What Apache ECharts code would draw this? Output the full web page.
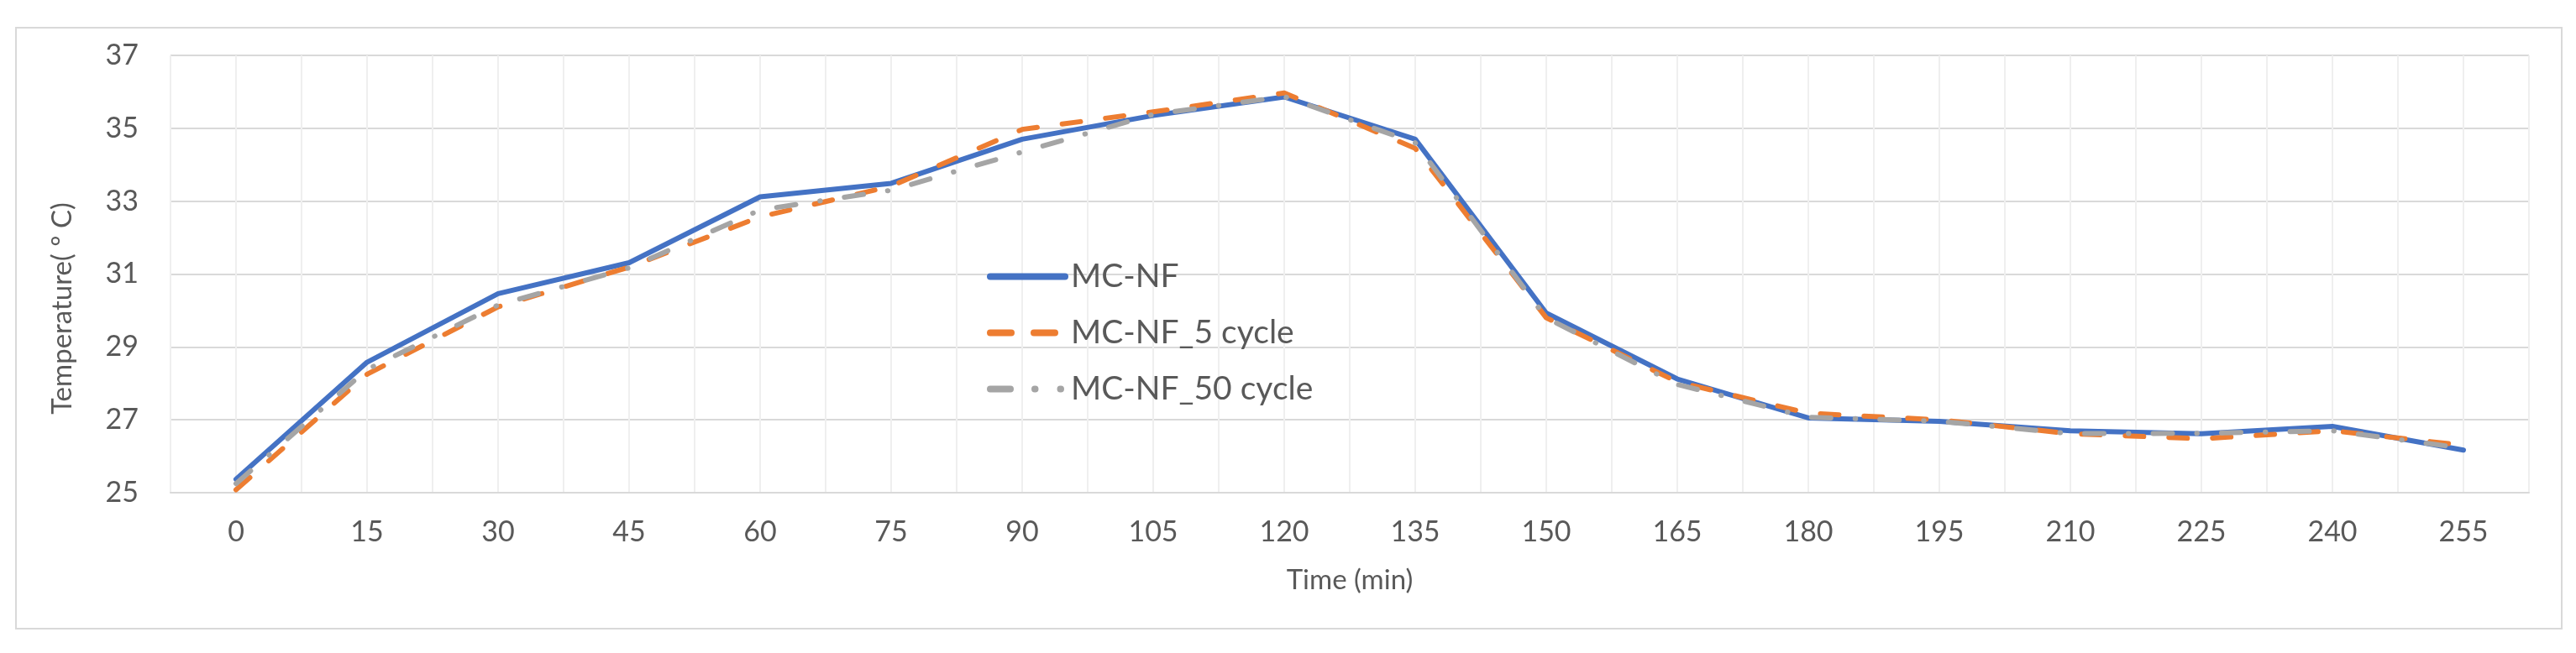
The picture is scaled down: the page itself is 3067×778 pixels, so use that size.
<!DOCTYPE html>
<html>
<head>
<meta charset="utf-8">
<script src="https://cdn.jsdelivr.net/npm/echarts@6/dist/echarts.min.js"></script>
<style>
html,body{margin:0;padding:0;background:#fff;}
#c{width:3067px;height:778px;}
</style>
</head>
<body>
<div id="c"></div>
<script>
const times = [0, 15, 30, 45, 60, 75, 90, 105, 120, 135, 150, 165, 180, 195, 210, 225, 240, 255];
const mcnf = [25.37, 28.58, 30.46, 31.31, 33.12, 33.49, 34.70, 35.35, 35.86, 34.70, 29.93, 28.12, 27.05, 26.96, 26.70, 26.62, 26.82, 26.17];
const mcnf5 = [25.08, 28.25, 30.10, 31.19, 32.57, 33.41, 34.97, 35.45, 35.97, 34.45, 29.80, 28.04, 27.18, 27.00, 26.62, 26.48, 26.70, 26.30];
const mcnf50 = [25.25, 28.38, 30.15, 31.17, 32.76, 33.30, 34.35, 35.38, 35.87, 34.60, 29.80, 27.97, 27.07, 26.96, 26.62, 26.63, 26.70, 26.22];
const yTicks = [25, 27, 29, 31, 33, 35, 37];
const seriesNames = ['MC-NF', 'MC-NF_5 cycle', 'MC-NF_50 cycle'];

const FONT = 'Lato, "Open Sans", sans-serif';
const TXT = '#595959';
const pairs = arr => times.map((t, i) => [t, arr[i]]);

const chart = echarts.init(document.getElementById('c'), null, {renderer: 'canvas'});
chart.setOption({
  animation: false,
  backgroundColor: '#ffffff',
  textStyle: {fontFamily: FONT},
  graphic: [{
    type: 'rect', z: -10,
    shape: {x: 19, y: 33, width: 3031, height: 716},
    style: {fill: 'none', stroke: '#d9d9d9', lineWidth: 2}
  }],
  grid: {left: 203, right: 56, top: 66, bottom: 191, containLabel: false},
  legend: {
    orient: 'vertical',
    left: 1170, top: 305,
    itemWidth: 89, itemHeight: 40, itemGap: 28,
    data: [
      {name: seriesNames[0], lineStyle: {width: 8, cap: 'round', type: 'solid'}},
      {name: seriesNames[1], lineStyle: {width: 8, cap: 'round', type: [25, 27]}},
      {name: seriesNames[2], lineStyle: {width: 8, cap: 'round', type: [24, 29, 0.5, 30, 0.5, 30]}}
    ],
    itemStyle: {color: 'rgba(0,0,0,0)', borderWidth: 0, opacity: 0},
    textStyle: {fontFamily: FONT, fontSize: 39, color: TXT, padding: [0, 0, 0, 2]}
  },
  xAxis: {
    type: 'value',
    min: -7.5, max: 262.5, interval: 7.5,
    name: 'Time (min)',
    nameLocation: 'middle',
    nameGap: 88,
    nameTextStyle: {fontFamily: FONT, fontSize: 33, color: TXT},
    axisLine: {show: true, lineStyle: {color: '#d9d9d9', width: 2}},
    axisTick: {show: false},
    axisLabel: {
      margin: 30, fontSize: 34, color: TXT, fontFamily: FONT,
      showMinLabel: true, showMaxLabel: true,
      formatter: v => (times.indexOf(Math.round(v * 100) / 100) >= 0 ? String(v) : '')
    },
    splitLine: {show: true, lineStyle: {color: '#efefef', width: 2}}
  },
  yAxis: {
    type: 'value',
    min: yTicks[0], max: yTicks[yTicks.length - 1], interval: 2,
    name: 'Temperature( º C)',
    nameLocation: 'middle',
    nameGap: 112,
    nameTextStyle: {fontFamily: FONT, fontSize: 33, color: TXT, padding: [0, 82, 0, 0]},
    axisLine: {show: false},
    axisTick: {show: false},
    axisLabel: {margin: 38, fontSize: 34, color: TXT, fontFamily: FONT},
    splitLine: {show: true, lineStyle: {color: '#d9d9d9', width: 2}}
  },
  series: [
    {
      name: seriesNames[0], type: 'line', data: pairs(mcnf), symbol: 'none', z: 2,
      lineStyle: {color: '#4472C4', width: 6, cap: 'round', join: 'round'},
      itemStyle: {color: '#4472C4'}
    },
    {
      name: seriesNames[1], type: 'line', data: pairs(mcnf5), symbol: 'none', z: 3,
      lineStyle: {color: '#ED7D31', width: 6, type: [22, 30], cap: 'round', join: 'round'},
      itemStyle: {color: '#ED7D31'}
    },
    {
      name: seriesNames[2], type: 'line', data: pairs(mcnf50), symbol: 'none', z: 4,
      lineStyle: {color: '#A5A5A5', width: 6, type: [23, 29, 0.5, 29], cap: 'round', join: 'round'},
      itemStyle: {color: '#A5A5A5'}
    }
  ]
});
</script>
</body>
</html>
